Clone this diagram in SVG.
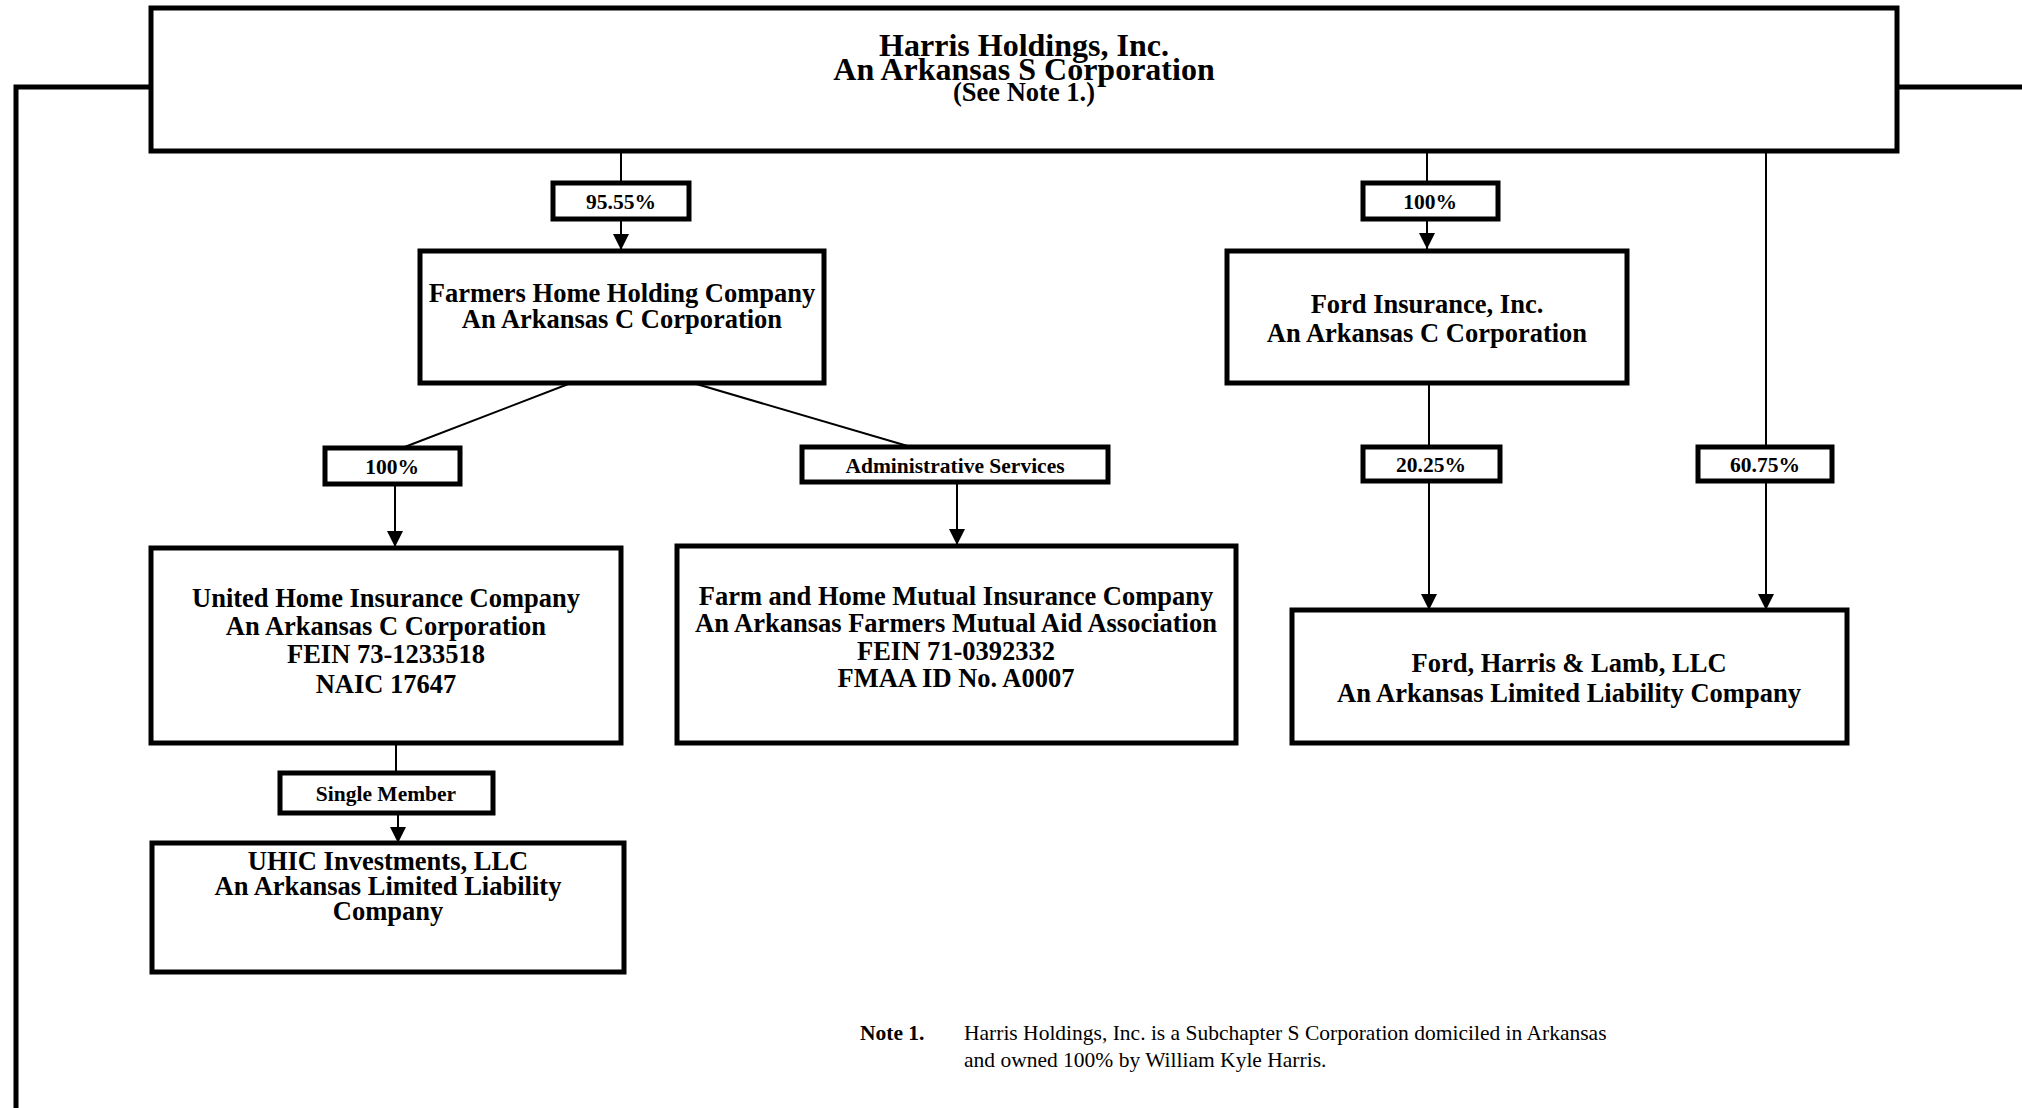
<svg xmlns="http://www.w3.org/2000/svg" width="2022" height="1108" viewBox="0 0 2022 1108">
<defs>
<style>
.box{fill:#fff;stroke:#000;stroke-width:5}
.lbl{fill:#fff;stroke:#000;stroke-width:5}
.ln{fill:none;stroke:#000;stroke-width:2}
.thick{fill:none;stroke:#000;stroke-width:5}
text{font-family:"Liberation Serif","Times New Roman",serif;fill:#000;text-anchor:middle}
.t{font-size:26.5px;font-weight:bold}
.h{font-size:32px;font-weight:bold}
.l{font-size:21.5px;font-weight:bold}
.n{font-size:21.5px;text-anchor:start}
.nb{font-size:21.5px;font-weight:bold;text-anchor:start}
</style>
<marker id="arr" viewBox="0 0 16 16" refX="16" refY="8" markerWidth="16" markerHeight="16" markerUnits="userSpaceOnUse" orient="auto">
<path d="M0,0 L16,8 L0,16 Z" fill="#000"/>
</marker>
</defs>
<rect width="2022" height="1108" fill="#fff"/>

<g id="connectors">
<polyline class="thick" points="151,87 16,87 16,1108"/>
<line class="thick" x1="1897" y1="87" x2="2022" y2="87"/>
<line class="ln" x1="621" y1="151" x2="621" y2="183"/>
<line class="ln" x1="621" y1="219" x2="621" y2="250" marker-end="url(#arr)"/>
<line class="ln" x1="1427" y1="151" x2="1427" y2="183"/>
<line class="ln" x1="1427" y1="219" x2="1427" y2="249" marker-end="url(#arr)"/>
<line class="ln" x1="1766" y1="151" x2="1766" y2="447"/>
<line class="ln" x1="1766" y1="481" x2="1766" y2="610" marker-end="url(#arr)"/>
<line class="ln" x1="571" y1="383" x2="402" y2="448"/>
<line class="ln" x1="395" y1="484" x2="395" y2="547" marker-end="url(#arr)"/>
<line class="ln" x1="693" y1="383" x2="911" y2="447"/>
<line class="ln" x1="957" y1="482" x2="957" y2="545" marker-end="url(#arr)"/>
<line class="ln" x1="1429" y1="383" x2="1429" y2="447"/>
<line class="ln" x1="1429" y1="481" x2="1429" y2="610" marker-end="url(#arr)"/>
<line class="ln" x1="396" y1="743" x2="396" y2="773"/>
<line class="ln" x1="398" y1="813" x2="398" y2="843" marker-end="url(#arr)"/>
</g>

<g id="edge-labels">
<g id="lbl-9555"><rect class="lbl" x="553" y="183" width="136" height="36"/><text class="l" x="621" y="209">95.55%</text></g>
<g id="lbl-100a"><rect class="lbl" x="1363" y="183" width="135" height="36"/><text class="l" x="1430" y="209">100%</text></g>
<g id="lbl-100b"><rect class="lbl" x="325" y="448" width="135" height="36"/><text class="l" x="392" y="474">100%</text></g>
<g id="lbl-admin"><rect class="lbl" x="802" y="447" width="306" height="35"/><text class="l" x="955" y="473">Administrative Services</text></g>
<g id="lbl-2025"><rect class="lbl" x="1363" y="447" width="137" height="34"/><text class="l" x="1431" y="472">20.25%</text></g>
<g id="lbl-6075"><rect class="lbl" x="1698" y="447" width="134" height="34"/><text class="l" x="1765" y="472">60.75%</text></g>
<g id="lbl-single"><rect class="lbl" x="280" y="773" width="213" height="40"/><text class="l" x="386" y="801">Single Member</text></g>
</g>

<g id="harris-holdings">
<rect class="box" x="151" y="8" width="1746" height="143"/>
<text class="h" x="1024" y="56">Harris Holdings, Inc.</text>
<text class="h" x="1024" y="80">An Arkansas S Corporation</text>
<text class="t" x="1024" y="101">(See Note 1.)</text>
</g>

<g id="farmers-home-holding">
<rect class="box" x="420" y="251" width="404" height="132"/>
<text class="t" x="622" y="302">Farmers Home Holding Company</text>
<text class="t" x="622" y="328">An Arkansas C Corporation</text>
</g>

<g id="ford-insurance">
<rect class="box" x="1227" y="251" width="400" height="132"/>
<text class="t" x="1427" y="313">Ford Insurance, Inc.</text>
<text class="t" x="1427" y="342">An Arkansas C Corporation</text>
</g>

<g id="united-home">
<rect class="box" x="151" y="548" width="470" height="195"/>
<text class="t" x="386" y="607">United Home Insurance Company</text>
<text class="t" x="386" y="635">An Arkansas C Corporation</text>
<text class="t" x="386" y="663">FEIN 73-1233518</text>
<text class="t" x="386" y="693">NAIC 17647</text>
</g>

<g id="farm-home-mutual">
<rect class="box" x="677" y="546" width="559" height="197"/>
<text class="t" x="956" y="605">Farm and Home Mutual Insurance Company</text>
<text class="t" x="956" y="632">An Arkansas Farmers Mutual Aid Association</text>
<text class="t" x="956" y="660">FEIN 71-0392332</text>
<text class="t" x="956" y="687">FMAA ID No. A0007</text>
</g>

<g id="ford-harris-lamb">
<rect class="box" x="1292" y="610" width="555" height="133"/>
<text class="t" x="1569" y="672">Ford, Harris &amp; Lamb, LLC</text>
<text class="t" x="1569" y="702">An Arkansas Limited Liability Company</text>
</g>

<g id="uhic-investments">
<rect class="box" x="152" y="843" width="472" height="129"/>
<text class="t" x="388" y="870">UHIC Investments, LLC</text>
<text class="t" x="388" y="895">An Arkansas Limited Liability</text>
<text class="t" x="388" y="920">Company</text>
</g>

<g id="note">
<text class="nb" x="860" y="1040">Note 1.</text>
<text class="n" x="964" y="1040">Harris Holdings, Inc. is a Subchapter S Corporation domiciled in Arkansas</text>
<text class="n" x="964" y="1067">and owned 100% by William Kyle Harris.</text>
</g>
</svg>
